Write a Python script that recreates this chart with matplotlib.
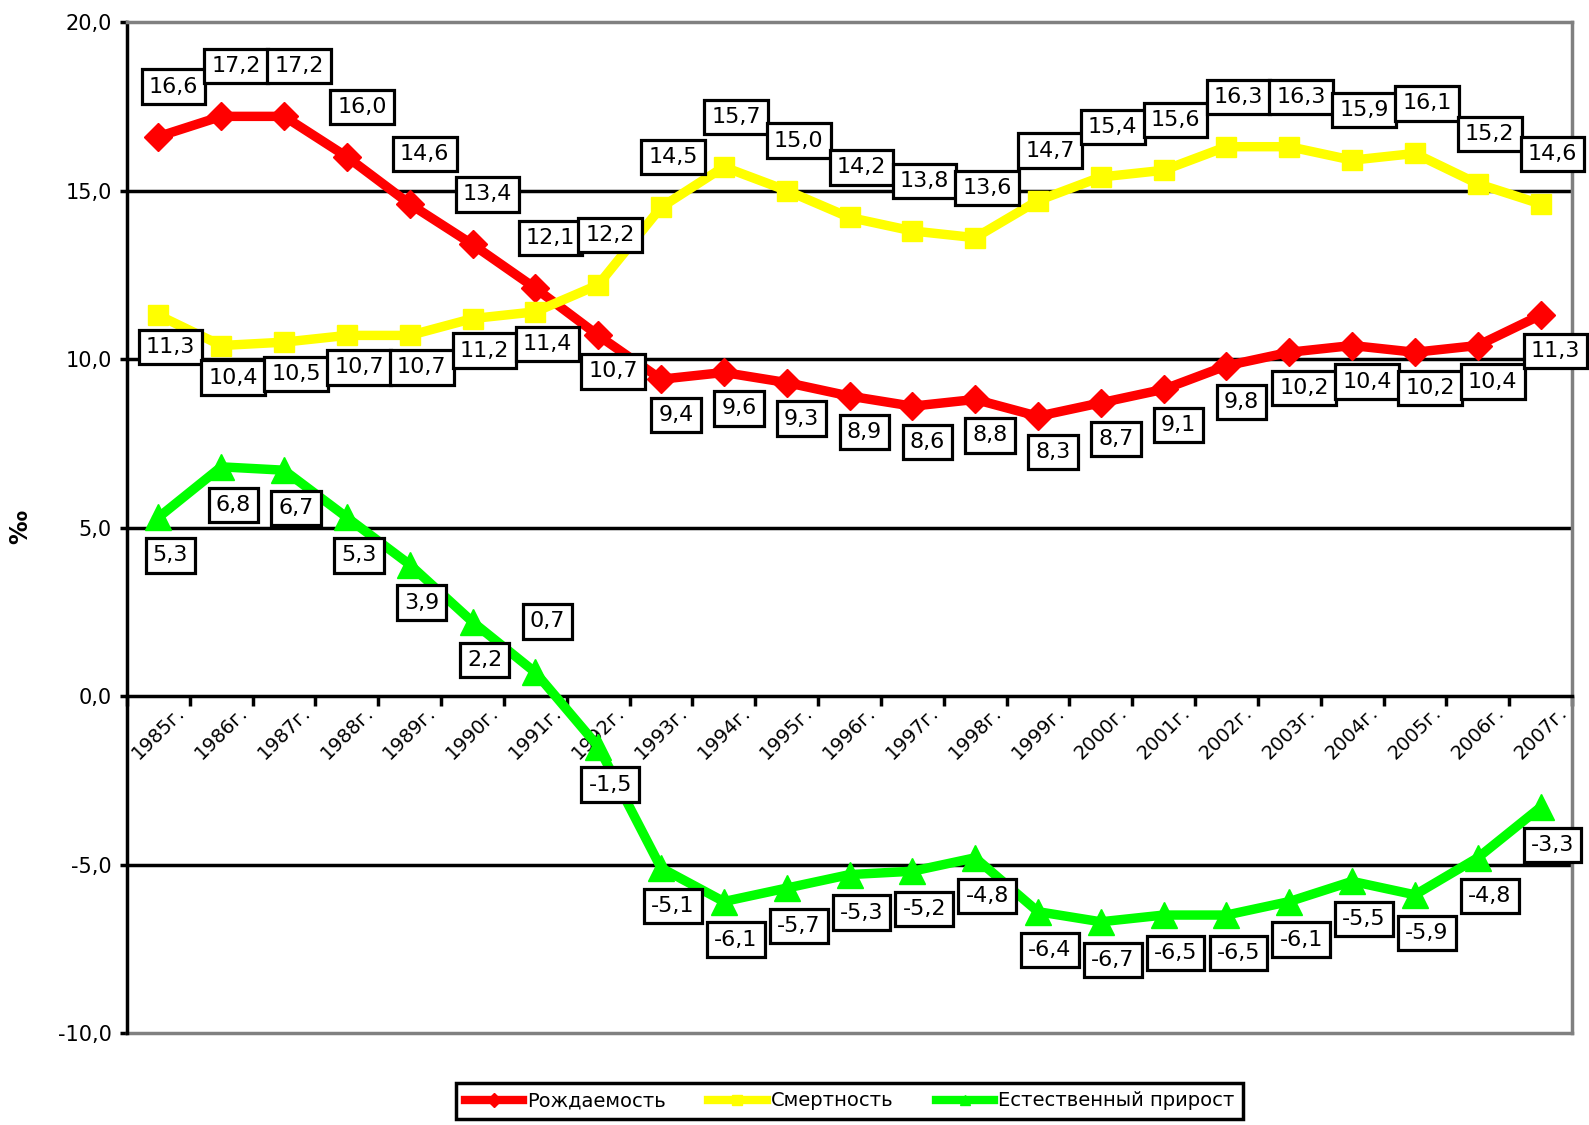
import matplotlib
matplotlib.use('Agg')
import matplotlib.pyplot as plt
from matplotlib.lines import Line2D
import numpy as np

# ---------------- data ----------------
years = [f"{y}г." for y in range(1985, 2008)]
birth = [16.6, 17.2, 17.2, 16.0, 14.6, 13.4, 12.1, 10.7, 9.4, 9.6, 9.3, 8.9,
         8.6, 8.8, 8.3, 8.7, 9.1, 9.8, 10.2, 10.4, 10.2, 10.4, 11.3]
death = [11.3, 10.4, 10.5, 10.7, 10.7, 11.2, 11.4, 12.2, 14.5, 15.7, 15.0, 14.2,
         13.8, 13.6, 14.7, 15.4, 15.6, 16.3, 16.3, 15.9, 16.1, 15.2, 14.6]
growth = [5.3, 6.8, 6.7, 5.3, 3.9, 2.2, 0.7, -1.5, -5.1, -6.1, -5.7, -5.3,
          -5.2, -4.8, -6.4, -6.7, -6.5, -6.5, -6.1, -5.5, -5.9, -4.8, -3.3]
series_names = ["Рождаемость", "Смертность", "Естественный прирост"]
y_ticks = [-10, -5, 0, 5, 10, 15, 20]

# label placement (a = above, b = below the point)
birth_side = ['a'] * 7 + ['b'] * 16
death_side = ['b'] * 7 + ['a'] * 16
growth_side = ['b'] * 6 + ['a'] + ['b'] * 16

plt.rcParams['font.family'] = ['DejaVu Sans']

W, H = 1589, 1125
fig = plt.figure(figsize=(W / 100, H / 100), dpi=100)
L, R, T, B = 127, 1572, 22, 1033
ax = fig.add_axes([L / W, 1 - B / H, (R - L) / W, (B - T) / H])

# spines first (set_position resets tick styling)
ax.spines['bottom'].set_position(('data', 0))
ax.spines['bottom'].set_linewidth(2.5)
ax.spines['bottom'].set_color('black')
ax.spines['left'].set_linewidth(2.5)
ax.spines['left'].set_color('black')
for s in ('top', 'right'):
    ax.spines[s].set_linewidth(2.5)
    ax.spines[s].set_color('#808080')

x = np.arange(len(years))
styles = [
    (birth, '#FF0000', 'D', 14, birth_side, 15, 50, 36),
    (death, '#FFFF00', 's', 14, death_side, 12, 50, 32),
    (growth, '#00FF00', '^', 19, growth_side, 12, 51, 38),
]

for i, (vals, col, mk, ms, side, dx, dya, dyb) in enumerate(styles):
    ax.plot(x, vals, color=col, lw=6.8, marker=mk, ms=ms, mec=col, mfc=col,
            zorder=3 + i, solid_joinstyle='round')
    for xi, v, s in zip(x, vals, side):
        dy = dya if s == 'a' else -dyb
        ax.annotate(f"{v:.1f}".replace('.', ','), (xi, v), xytext=(dx, dy),
                    textcoords='offset pixels', ha='center', va='center',
                    fontsize=16, zorder=10,
                    bbox=dict(boxstyle='square,pad=0.32', fc='white',
                              ec='black', lw=2.3))

ax.set_xlim(-0.5, len(years) - 0.5)
ax.set_ylim(y_ticks[0], y_ticks[-1])

for v in y_ticks:
    if v not in (y_ticks[0], 0, y_ticks[-1]):
        ax.axhline(v, color='black', lw=2.5, zorder=1)

ax.set_yticks(y_ticks)
ax.set_yticklabels([f"{v:.1f}".replace('.', ',') for v in y_ticks], fontsize=15)
ax.tick_params(axis='y', length=5, width=2.5, direction='out', pad=6, color='black')

ax.set_xticks(x)
ax.set_xticklabels(years, rotation=45, ha='center', va='top', fontsize=14)
ax.set_xticks(np.arange(-0.5, len(years)), minor=True)
ax.tick_params(axis='x', which='major', length=0, pad=5)
ax.tick_params(axis='x', which='minor', length=7, width=2.5, direction='out', color='black')

ax.axhline(y_ticks[0], color='#808080', lw=2.5, clip_on=False, zorder=2)

fig.text(20 / W, 1 - 527 / H, '‰', rotation=90, fontsize=17,
         ha='center', va='center', fontweight='bold')

handles = [Line2D([], [], color=c, lw=6, marker=m, ms=7, mec=c, mfc=c)
           for (_, c, m, *_r) in styles]
leg = fig.legend(handles, series_names, loc='center',
                 bbox_to_anchor=((L + R) / 2 / W, 1 - 1101 / H), ncol=3,
                 frameon=True, fancybox=False, edgecolor='black', framealpha=1,
                 fontsize=14, handlelength=3.0, columnspacing=2.2,
                 handletextpad=0.2, borderpad=0.45)
leg.get_frame().set_linewidth(2.5)

fig.savefig('out.png', dpi=100, facecolor='white')
